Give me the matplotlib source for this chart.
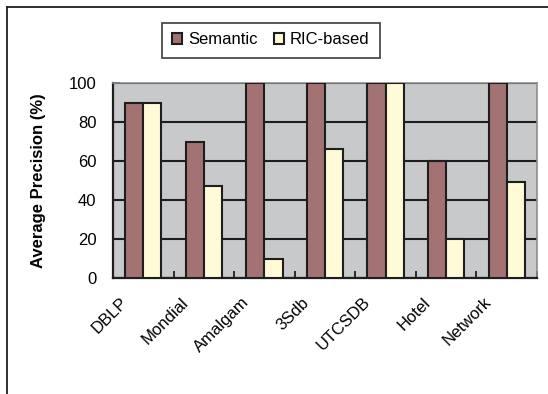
import matplotlib.pyplot as plt
import matplotlib.transforms as mtransforms
from matplotlib.lines import Line2D
import numpy as np

plt.rcParams['font.family'] = ['Liberation Sans', 'DejaVu Sans']

datasets = ['DBLP', 'Mondial', 'Amalgam', '3Sdb', 'UTCSDB', 'Hotel', 'Network']
semantic = [90, 70, 100, 100, 100, 60, 100]
ric_based = [90, 47, 10, 66, 100, 20, 49]

fig = plt.figure(figsize=(5.48, 3.94), dpi=100)
ax = fig.add_axes([0.2062, 0.2944, 0.7738, 0.4949])

x = np.arange(len(datasets))
w = 0.3
ax.bar(x - w / 2, semantic, w, color='#A37272', edgecolor='#1e1e1e',
       linewidth=1.5, label='Semantic', zorder=3)
ax.bar(x + w / 2, ric_based, w, color='#FFFBD6', edgecolor='#1e1e1e',
       linewidth=1.5, label='RIC-based', zorder=3)

ax.set_facecolor('#C8C9CB')
ax.set_xlim(-0.5, len(datasets) - 0.5)
ax.set_ylim(0, 100)
ax.set_yticks([0, 20, 40, 60, 80, 100])
ax.yaxis.grid(True, color='#1e1e1e', linewidth=1.5, zorder=1)
ax.set_axisbelow(True)

for side in ['top', 'right']:
    ax.spines[side].set_color('#8c8c8c')
    ax.spines[side].set_linewidth(1.2)
for side in ['left', 'bottom']:
    ax.spines[side].set_color('#1e1e1e')
    ax.spines[side].set_linewidth(1.6)

ax.tick_params(axis='y', direction='in', length=5, width=1.3, pad=12,
               labelsize=12, color='#1e1e1e')
# tick marks between categories, labels placed separately
ax.set_xticks(np.arange(len(datasets) + 1) - 0.5)
ax.set_xticklabels([])
ax.tick_params(axis='x', direction='in', length=5, width=1.3, color='#1e1e1e')

offset = mtransforms.ScaledTranslation(-0.18, -0.22, fig.dpi_scale_trans)
trans = mtransforms.blended_transform_factory(ax.transData, ax.transAxes) + offset
for xi, name in zip(x, datasets):
    ax.text(xi, 0, name, transform=trans, rotation=45, rotation_mode='anchor',
            ha='right', va='center', fontsize=12)

ax.set_ylabel('Average Precision (%)', fontsize=12, fontweight='bold')
ax.yaxis.set_label_coords(-0.158, 0.5)

leg = fig.legend(loc='center', bbox_to_anchor=(271 / 548, 1 - 40 / 394),
                 ncol=2, fontsize=12, frameon=True, fancybox=False,
                 edgecolor='#1e1e1e', handlelength=0.6, handleheight=0.6,
                 handletextpad=0.35, columnspacing=1.0, borderpad=0.6,
                 borderaxespad=0)
leg.get_frame().set_linewidth(1.3)

# outer chart border
fig.add_artist(Line2D([7 / 548, 7 / 548], [0, 1 - 7 / 394], color='#1e1e1e',
                      linewidth=1.3, transform=fig.transFigure))
fig.add_artist(Line2D([7 / 548, 1], [1 - 7 / 394, 1 - 7 / 394], color='#1e1e1e',
                      linewidth=1.3, transform=fig.transFigure))

fig.savefig('out.png', dpi=100)
